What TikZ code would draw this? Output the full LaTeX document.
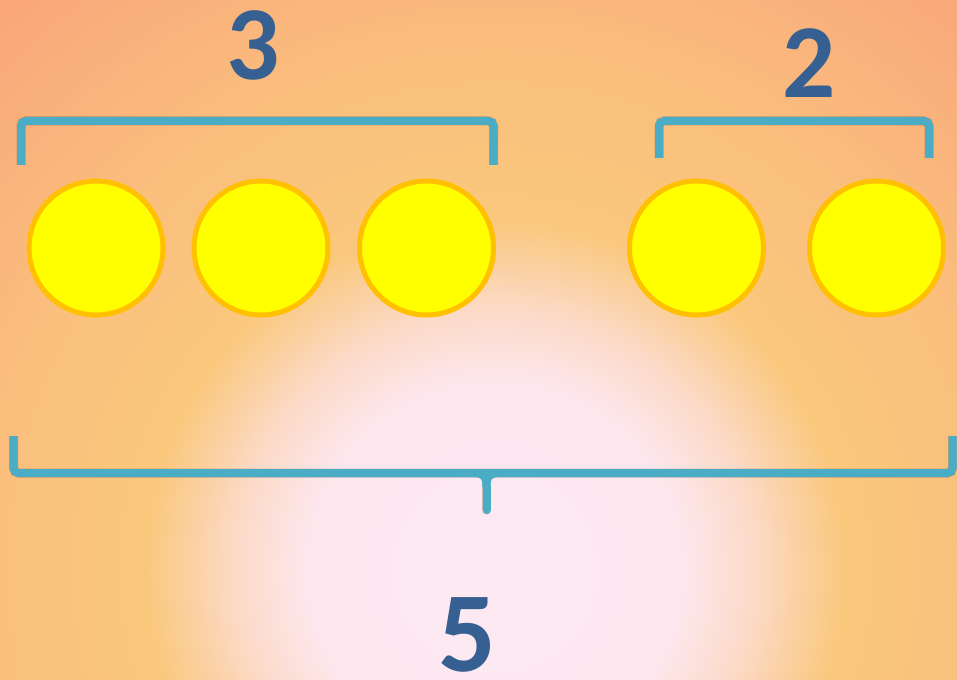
\documentclass[tikz,border=0pt]{standalone}
\usepackage{fontspec}
\setmainfont{Carlito}
\definecolor{numblue}{RGB}{55,96,146}
\definecolor{brk}{RGB}{75,172,198}
\definecolor{dotfill}{RGB}{255,255,0}
\definecolor{dotline}{RGB}{255,192,0}
\pgfdeclareradialshading{bgshade}{\pgfpoint{0bp}{0bp}}{%
  rgb(0bp)=(0.992,0.914,0.949);
  rgb(6bp)=(0.992,0.910,0.941);
  rgb(8.5bp)=(0.988,0.855,0.784);
  rgb(11.5bp)=(0.980,0.784,0.490);
  rgb(17bp)=(0.980,0.745,0.490);
  rgb(25bp)=(0.976,0.647,0.478);
  rgb(50bp)=(0.976,0.647,0.478)}
\tikzset{
  dot/.style={circle,draw=dotline,fill=dotfill,line width=5pt,minimum size=134pt,inner sep=0pt},
  num/.style={text=numblue,inner sep=0pt,font=\bfseries\fontsize{105}{105}\selectfont},
  brkline/.style={draw=brk,line width=8pt,rounded corners=5pt},
  brkshadow/.style={draw=black!70!brown,opacity=0.25,line width=9pt,rounded corners=5pt,shift={(2pt,-3pt)}},
}
\begin{document}
\begin{tikzpicture}[x=1pt,y=-1pt]
\useasboundingbox (0,0) rectangle (957,679);
\begin{scope}
  \clip (0,0) rectangle (957,679);
  \shade[shading=bgshade] (495,570) circle (760);
\end{scope}
% circles
\node[dot] (c1) at (96,248) {};
\node[dot] (c2) at (261,248) {};
\node[dot] (c3) at (426.5,248) {};
\node[dot] (c4) at (696.5,248) {};
\node[dot] (c5) at (876.5,248) {};
% bracket coordinates
\coordinate (a1) at (21,165);
\coordinate (a2) at (21,121);
\coordinate (a3) at (493.5,121);
\coordinate (a4) at (493.5,165);
\coordinate (b1) at (659,158);
\coordinate (b2) at (659,121);
\coordinate (b3) at (929,121);
\coordinate (b4) at (929,158);
\coordinate (d1) at (13.5,436);
\coordinate (d2) at (13.5,473);
\coordinate (d3) at (952.5,473);
\coordinate (d4) at (952.5,436);
\coordinate (tl) at (474,473);
\coordinate (tr) at (499,473);
\coordinate (tm) at (486.5,487);
\coordinate (tb) at (486.5,510);
% shadows
\path[brkshadow] (a1) -- (a2) -- (a3) -- (a4);
\path[brkshadow] (b1) -- (b2) -- (b3) -- (b4);
\path[brkshadow] (d1) -- (d2) -- (d3) -- (d4);
\path[brkshadow,line cap=round] (tm) -- (tb);
% brackets
\path[brkline] (a1) -- (a2) -- (a3) -- (a4);
\path[brkline] (b1) -- (b2) -- (b3) -- (b4);
\path[brkline] (d1) -- (d2) -- (d3) -- (d4);
\draw[brk,line width=8pt] (tl) .. controls (484,473) and (486.5,477) .. (tm);
\draw[brk,line width=8pt] (tr) .. controls (489,473) and (486.5,477) .. (tm);
\draw[brk,line width=8pt,line cap=round] (tm) -- (tb);
% numbers
\node[num] (n3) at (253,45) {3};
\node[num] (n2) at (809,63) {2};
\node[num,font=\bfseries\fontsize{114}{114}\selectfont] (n5) at (467,635) {5};
\end{tikzpicture}
\end{document}
